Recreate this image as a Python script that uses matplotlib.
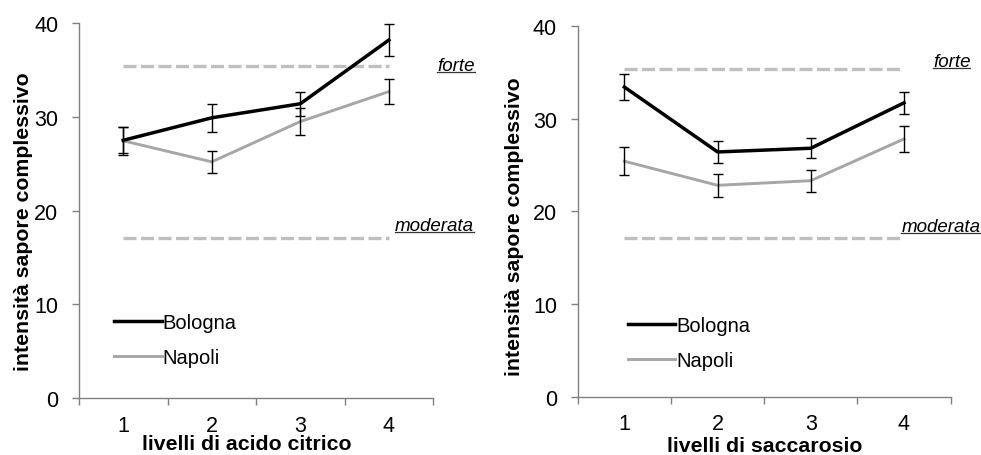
import numpy as np
import matplotlib
matplotlib.use("Agg")
import matplotlib.pyplot as plt
from matplotlib.lines import Line2D

plt.rcParams['font.family'] = ['Liberation Sans', 'DejaVu Sans']

livelli = [1, 2, 3, 4]
tick_labels = ["1", "2", "3", "4"]

# acido citrico
cit_bologna = [27.5, 29.9, 31.4, 38.2]
cit_bologna_err = [1.4, 1.5, 1.3, 1.75]
cit_napoli = [27.45, 25.2, 29.5, 32.7]
cit_napoli_err = [1.5, 1.15, 1.45, 1.35]

# saccarosio
sac_bologna = [33.4, 26.4, 26.8, 31.7]
sac_bologna_err = [1.4, 1.15, 1.1, 1.2]
sac_napoli = [25.4, 22.8, 23.3, 27.8]
sac_napoli_err = [1.5, 1.25, 1.2, 1.4]

forte = 35.4
moderata = 17.1

fig = plt.figure(figsize=(9.81, 4.56), dpi=100)
ax1 = fig.add_axes([0.0805, 0.125, 0.361, 0.822])
ax2 = fig.add_axes([0.589, 0.128, 0.380, 0.813])

# per-panel layout: (ylabel x, ylabel y, xlabel x, xlabel y, legend x, legend y,
#                    forte x, forte y, moderata x, moderata y)
panels = [
    (ax1, cit_bologna, cit_bologna_err, cit_napoli, cit_napoli_err, "livelli di acido citrico",
     (-0.13, 0.473, 0.475, -0.095, 0.10, 0.155, 4.545, 35.0, 4.07, 17.9)),
    (ax2, sac_bologna, sac_bologna_err, sac_napoli, sac_napoli_err, "livelli di saccarosio",
     (-0.145, 0.46, 0.50, -0.105, 0.135, 0.145, 4.31, 35.65, 3.97, 17.87)),
]

underline_texts = []
for ax, bol, bol_e, nap, nap_e, xlab, pos in panels:
    ylx, yly, xlx, xly, lgx, lgy, fx, fy, mx, my = pos
    ax.plot(livelli, [forte] * 4, color="#bfbfbf", lw=2.4, dashes=(3.9, 1.35), zorder=1)
    ax.plot(livelli, [moderata] * 4, color="#bfbfbf", lw=2.4, dashes=(3.9, 1.35), zorder=1)

    ax.plot(livelli, nap, color="#a6a6a6", lw=2.1, zorder=2)
    ax.plot(livelli, bol, color="black", lw=2.5, zorder=3)
    ax.errorbar(livelli, nap, yerr=nap_e, fmt="none", ecolor="black", elinewidth=1,
                capsize=3.8, capthick=1, zorder=4)
    ax.errorbar(livelli, bol, yerr=bol_e, fmt="none", ecolor="black", elinewidth=1,
                capsize=3.8, capthick=1, zorder=4)

    ax.set_xlim(0.5, 4.5)
    ax.set_ylim(0, 40)
    ax.set_yticks([0, 10, 20, 30, 40])
    ax.set_xticks([0.5, 1.5, 2.5, 3.5, 4.5])
    ax.set_xticklabels([])
    ax.set_xticks(livelli, minor=True)
    ax.set_xticklabels(tick_labels, minor=True)
    ax.tick_params(axis="x", which="minor", length=0, labelsize=15.5, pad=12)
    ax.tick_params(axis="x", which="major", length=5, color="#808080", width=1)
    ax.tick_params(axis="y", length=5, color="#808080", width=1, labelsize=15.5, pad=10)
    for s in ["top", "right"]:
        ax.spines[s].set_visible(False)
    for s in ["left", "bottom"]:
        ax.spines[s].set_color("#808080")
        ax.spines[s].set_linewidth(1)

    ax.set_xlabel(xlab, fontsize=15.3, fontweight="bold")
    ax.set_ylabel("intensità sapore complessivo", fontsize=15.3, fontweight="bold")
    ax.yaxis.set_label_coords(ylx, yly)
    ax.xaxis.set_label_coords(xlx, xly)

    handles = [Line2D([], [], color="black", lw=2.5), Line2D([], [], color="#a6a6a6", lw=2.1)]
    ax.legend(handles, ["Bologna", "Napoli"], loc="center left", bbox_to_anchor=(lgx, lgy),
              frameon=False, fontsize=14.5, handlelength=2.35, handletextpad=0.05,
              labelspacing=0.8, borderpad=0, borderaxespad=0)

    t1 = ax.text(fx, fy, "forte", fontsize=13.5, style="italic",
                 ha="left", va="baseline", clip_on=False)
    t2 = ax.text(mx, my, "moderata", fontsize=13.5, style="italic",
                 ha="left", va="baseline", clip_on=False)
    underline_texts += [t1, t2]

fig.canvas.draw()
renderer = fig.canvas.get_renderer()
inv = fig.transFigure.inverted()
for t in underline_texts:
    bb = t.get_window_extent(renderer)
    (x0, y0), (x1, _) = inv.transform([[bb.x0, bb.y0 + 2], [bb.x1, bb.y0]])
    fig.add_artist(Line2D([x0, x1], [y0, y0], color="#333333", lw=0.9,
                          transform=fig.transFigure))

fig.savefig("out.png", dpi=100)
